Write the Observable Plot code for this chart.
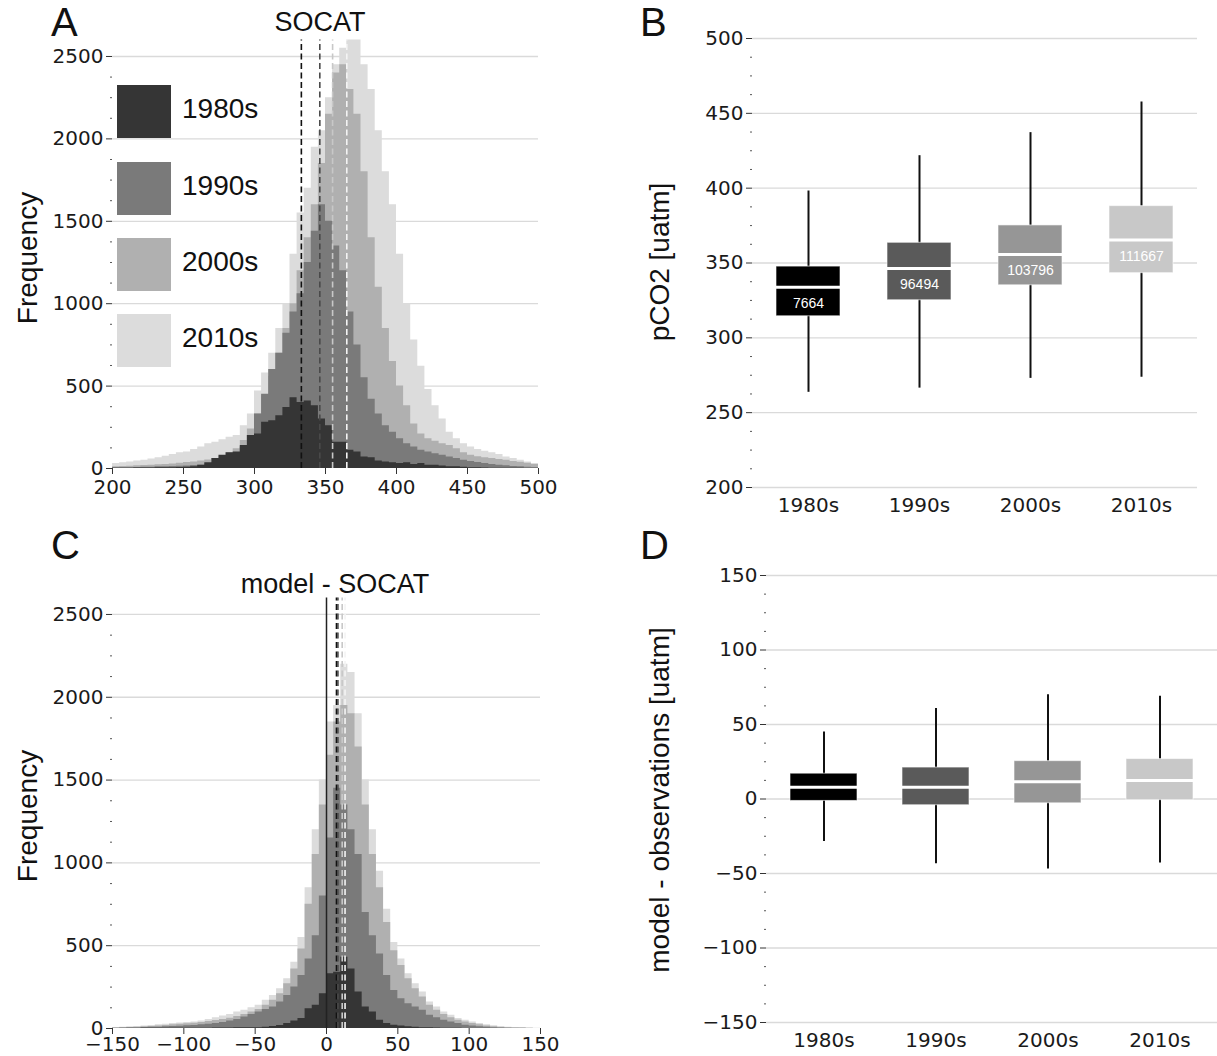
<!DOCTYPE html>
<html><head><meta charset="utf-8">
<script src="https://cdn.jsdelivr.net/npm/d3@7"></script>
<script src="https://cdn.jsdelivr.net/npm/@observablehq/plot@0.6"></script>
<style>
body{margin:0;background:#fff;}
#root{position:relative;width:1217px;height:1056px;overflow:hidden;background:#fff;font-family:"Liberation Sans",Arial,sans-serif;color:#111;}
.panel{position:absolute;}
.panel svg{overflow:visible;max-width:none;}
.t{position:absolute;white-space:nowrap;line-height:1;}
.sw{position:absolute;}
</style></head><body><div id="root"></div><script>
// ---------- data ----------
const decades = ["1980s", "1990s", "2000s", "2010s"];
const counts = [7664, 96494, 103796, 111667];

// Panel A: SOCAT pCO2 histograms, 5-uatm bins starting at 200
const histA_1980s = [
  2,2,2,3,3,3,4,4,5,6,
  8,10,20,35,60,80,95,100,140,200,
  210,280,290,320,370,430,400,410,380,300,
  260,160,160,110,100,70,65,45,40,35,
  30,35,25,30,20,20,15,10,10,8,
  5,4,3,2,2,1,1,1,0,0];
const histA_1990s = [
  5,5,5,6,8,8,10,10,12,13,
  15,18,20,28,35,45,60,90,130,200,
  330,450,600,700,820,950,1060,1250,1440,1600,
  1500,1350,1200,950,750,550,420,330,260,220,
  180,150,130,110,100,90,80,70,60,50,
  42,36,30,25,20,16,12,10,8,6];
const histA_2000s = [
  10,12,14,16,18,20,22,25,28,32,
  36,40,45,52,60,75,95,120,170,240,
  330,440,560,700,850,1000,1200,1400,1600,1850,
  2150,2400,2450,2300,2150,1800,1400,1100,850,650,
  500,380,270,210,180,165,150,140,120,95,
  80,72,65,60,55,50,42,38,32,25];
const histA_2010s = [
  30,35,40,45,50,58,65,75,85,95,
  100,115,130,150,160,175,190,200,260,330,
  470,580,700,850,1000,1300,1550,1700,1950,2050,
  2250,2450,2550,2600,2600,2450,2300,2050,1800,1600,
  1300,1000,780,620,480,380,300,220,180,150,
  130,115,105,95,85,70,60,50,40,30];
const mediansA = [333, 346, 355, 365];

// Panel C: model - SOCAT histograms, 5-uatm bins starting at -150
const histC_1980s = [
  0,0,0,0,1,1,1,1,1,1,
  2,2,2,2,3,3,3,4,4,5,
  5,8,12,18,30,45,60,120,140,210,
  330,340,430,360,220,130,100,50,30,20,
  15,10,8,5,4,3,2,1,1,0,
  0,0,0,0,0,0,0,0,0,0];
const histC_1990s = [
  2,3,4,5,6,7,8,10,12,14,
  16,18,22,26,30,36,45,55,70,85,
  100,115,130,160,200,250,320,420,560,800,
  1150,1450,1350,1200,1050,700,560,450,320,230,
  180,150,130,110,80,65,50,40,30,20,
  15,10,7,5,3,2,1,1,0,0];
const histC_2000s = [
  3,5,6,8,10,12,15,18,22,25,
  28,32,36,42,48,55,62,72,85,100,
  115,140,170,210,270,360,480,750,1050,1350,
  1650,1850,1950,1900,1700,1350,1050,850,640,470,
  380,300,240,190,140,110,85,65,50,40,
  30,22,15,10,6,4,2,1,1,0];
const histC_2010s = [
  5,8,10,12,15,18,22,25,30,33,
  36,40,45,55,65,75,85,100,110,125,
  140,170,200,240,300,400,550,850,1200,1500,
  1850,1950,2200,2150,1900,1500,1200,950,720,520,
  420,330,270,220,160,130,100,80,60,50,
  40,30,22,16,12,8,6,4,3,2];
const mediansC = [7, 8, 11, 13];

// Panel B: pCO2 box statistics
const B_low = [263.6, 266.4, 272.9, 273.6];
const B_q1 = [314.4, 325.1, 335.1, 343.2];
const B_med = [333.8, 346.3, 355.7, 365.3];
const B_q3 = [347.6, 363.5, 375.1, 388.0];
const B_high = [398.1, 421.7, 437.1, 457.6];

// Panel D: model - observations box statistics
const D_low = [-28.6, -43.5, -46.9, -43.0];
const D_q1 = [-1.3, -4.2, -2.9, -0.8];
const D_med = [7.9, 7.9, 11.5, 12.4];
const D_q3 = [17.0, 21.1, 25.4, 26.8];
const D_high = [45.0, 60.8, 69.9, 69.0];

// ---------- styles ----------
const histColors = ["#353535", "#7a7a7a", "#b0b0b0", "#dcdcdc"];
const lineColors = ["#111111", "#4a4a4a", "#c8c8c8", "#f4f4f4"];
const boxColors = ["#000000", "#5a5a5a", "#969696", "#c8c8c8"];
const gridColor = "#dadada";
const fmt = d3.format("d");

const root = document.getElementById("root");
function addPlot(el, left, top) {
  const d = document.createElement("div");
  d.className = "panel"; d.style.left = left + "px"; d.style.top = top + "px";
  d.appendChild(el); root.appendChild(d);
}
function addText(txt, x, y, size, opt = {}) {
  const d = document.createElement("div");
  d.className = "t"; d.textContent = txt;
  d.style.fontSize = size + "px";
  d.style.left = x + "px"; d.style.top = y + "px";
  if (opt.rotate) d.style.transform = "translate(-50%,-50%) rotate(-90deg)";
  else if (opt.center) d.style.transform = "translate(-50%,-50%)";
  else d.style.transform = "translate(0,-50%)";
  root.appendChild(d);
}

function steps(start, w, vals) {
  const rows = vals.map((v, i) => ({x: start + i * w, y: v}));
  rows.push({x: start + vals.length * w, y: vals[vals.length - 1]});
  return rows;
}

function histPlot(opts) {
  const {series, start, w, xdom, xticks, medians, zeroLine, width, height, ml, mr, mt, mb, xpad} = opts;
  const yTicks = [0, 500, 1000, 1500, 2000, 2500];
  const yMinor = d3.range(0, 2600, 125).filter(v => v % 500 !== 0);
  const marks = [Plot.gridY(yTicks.slice(1), {stroke: gridColor, strokeOpacity: 1, strokeWidth: 1.3})];
  // back to front: 2010s, 2000s, 1990s, 1980s
  for (let i = 3; i >= 0; i--) {
    marks.push(Plot.areaY(steps(start, w, series[i]), {x: "x", y: "y", fill: histColors[i], curve: "step-after"}));
  }
  if (zeroLine) marks.push(Plot.ruleX([0], {y1: 0, y2: 2600, stroke: "#222", strokeWidth: 1.5}));
  medians.forEach((m, i) => {
    marks.push(Plot.ruleX([m], {y1: 0, y2: 2600, stroke: lineColors[i], strokeWidth: 1.6, strokeDasharray: "6,3.5"}));
  });
  marks.push(Plot.axisX(xticks, {tickSize: 6, tickPadding: xpad, tickFormat: fmt, label: null, stroke: "#333"}));
  marks.push(Plot.axisY(yTicks, {tickSize: 6, tickPadding: 3, tickFormat: fmt, label: null, stroke: "#333"}));
  marks.push(Plot.axisY(yMinor, {tickSize: 2, tickFormat: () => "", label: null, stroke: "#555"}));
  return Plot.plot({
    width, height, marginLeft: ml, marginRight: mr, marginTop: mt, marginBottom: mb,
    style: {fontFamily: "DejaVu Sans", fontSize: "20px", color: "#1a1a1a", background: "transparent", overflow: "visible"},
    x: {domain: xdom}, y: {domain: [0, 2600]},
    marks
  });
}

function boxPlot(opts) {
  const {low, q1, med, q3, high, ydom, yticks, minorStep, labels, width, height, ml, mr, mt, mb, pin, pout} = opts;
  const rows = decades.map((d, i) => ({decade: d, lo: low[i], q1: q1[i], med: med[i], q3: q3[i], hi: high[i], n: labels ? labels[i] : null}));
  const yMinor = d3.range(ydom[0], ydom[1] + 0.01, minorStep).filter(v => !yticks.includes(v));
  const marks = [
    Plot.gridY(yticks, {stroke: gridColor, strokeOpacity: 1, strokeWidth: 1.3}),
    Plot.ruleX(rows, {x: "decade", y1: "lo", y2: "hi", stroke: "#111", strokeWidth: 2}),
    Plot.barY(rows, {x: "decade", y1: "q1", y2: "q3", fill: "decade", inset: 0, stroke: "#ffffff", strokeWidth: 1, strokeOpacity: 0.6}),
    Plot.tickY(rows, {x: "decade", y: "med", stroke: "#ffffff", strokeWidth: 3}),
  ];
  if (labels) marks.push(Plot.text(rows, {x: "decade", y: "med", text: d => String(d.n), dy: 16, fill: "#ffffff", fontSize: 14, fontFamily: "Liberation Sans"}));
  marks.push(Plot.axisX({tickSize: 0, tickPadding: 10, label: null}));
  marks.push(Plot.axisY(yticks, {tickSize: 6, tickPadding: 3, tickFormat: fmt, label: null, stroke: "#333"}));
  marks.push(Plot.axisY(yMinor, {tickSize: 2, tickFormat: () => "", label: null, stroke: "#555"}));
  return Plot.plot({
    width, height, marginLeft: ml, marginRight: mr, marginTop: mt, marginBottom: mb,
    style: {fontFamily: "DejaVu Sans", fontSize: "20px", color: "#1a1a1a", background: "transparent", overflow: "visible"},
    x: {domain: decades, paddingInner: pin, paddingOuter: pout},
    y: {domain: ydom},
    color: {domain: decades, range: boxColors},
    marks
  });
}

// ---------- panels ----------
addPlot(histPlot({
  series: [histA_1980s, histA_1990s, histA_2000s, histA_2010s], start: 200, w: 5,
  xdom: [200, 500], xticks: [200, 250, 300, 350, 400, 450, 500], medians: mediansA, zeroLine: false,
  width: 560, height: 520, ml: 112, mr: 22, mt: 39.5, mb: 52, xpad: 5
}), 0, 0);

addPlot(boxPlot({
  low: B_low, q1: B_q1, med: B_med, q3: B_q3, high: B_high,
  ydom: [200, 500], yticks: [200, 250, 300, 350, 400, 450, 500], minorStep: 12.5, labels: counts,
  width: 617, height: 520, ml: 152, mr: 20, mt: 38, mb: 33, pin: 0.42, pout: 0.21
}), 600, 0);

addPlot(histPlot({
  series: [histC_1980s, histC_1990s, histC_2000s, histC_2010s], start: -150, w: 5,
  xdom: [-150, 150], xticks: [-150, -100, -50, 0, 50, 100, 150], medians: mediansC, zeroLine: true,
  width: 560, height: 526, ml: 112, mr: 20, mt: 67.4, mb: 28, xpad: 2
}), 0, 530);

addPlot(boxPlot({
  low: D_low, q1: D_q1, med: D_med, q3: D_q3, high: D_high,
  ydom: [-150, 150], yticks: [-150, -100, -50, 0, 50, 100, 150], minorStep: 12.5, labels: null,
  width: 617, height: 526, ml: 166, mr: 0, mt: 45, mb: 34, pin: 0.4, pout: 0.2
}), 600, 530);

// ---------- text overlays ----------
addText("A", 51, 22, 40);
addText("B", 640, 22, 40);
addText("C", 51, 545, 40);
addText("D", 640, 545, 40);
addText("SOCAT", 320, 22, 27, {center: true});
addText("model - SOCAT", 335, 584, 27, {center: true});
addText("Frequency", 28, 258, 28, {rotate: true});
addText("Frequency", 28, 816, 28, {rotate: true});
addText("pCO2 [uatm]", 660, 262, 28, {rotate: true});
addText("model - observations [uatm]", 660, 800, 28, {rotate: true});

// legend (panel A)
const legTops = [85, 162, 238, 314];
decades.forEach((d, i) => {
  const s = document.createElement("div");
  s.className = "sw";
  s.style.left = "117px"; s.style.top = legTops[i] + "px";
  s.style.width = "54px"; s.style.height = "53px";
  s.style.background = histColors[i];
  root.appendChild(s);
  addText(d, 182, legTops[i] + 24, 28);
});
</script></body></html>
